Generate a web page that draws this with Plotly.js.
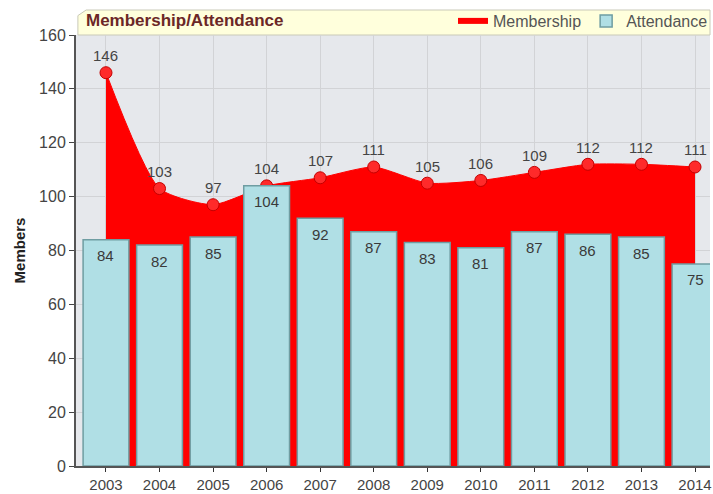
<!DOCTYPE html>
<html>
<head>
<meta charset="utf-8">
<script src="https://cdn.plot.ly/plotly-3.0.1.min.js"></script>
<style>html,body{margin:0;padding:0;background:#fff;}#chart{width:713px;height:494px;}</style>
</head>
<body>
<div id="chart"></div>
<script>
var years = ["2003","2004","2005","2006","2007","2008","2009","2010","2011","2012","2013","2014"];
var membership = [146,103,97,104,107,111,105,106,109,112,112,111];
var attendance = [84,82,85,104,92,87,83,81,87,86,85,75];
var yTicks = [0,20,40,60,80,100,120,140,160];

var FONT = "Liberation Sans, Arial, sans-serif";
var xr = [-0.56, 11.28];

var traces = [
  {
    type: "scatter", name: "Membership", x: years, y: membership,
    mode: "lines+markers", fill: "tozeroy", fillcolor: "#ff0000",
    line: {shape: "spline", smoothing: 0.6, color: "#ff0000", width: 1},
    marker: {size: 12, color: "#ff2a2a", line: {color: "#c40000", width: 1}},
    xaxis: "x", yaxis: "y", hoverinfo: "skip", showlegend: false
  },
  {
    type: "scatter", name: "Membership", x: [null], y: [null],
    mode: "none", fill: "tozeroy", fillcolor: "#ff0000",
    xaxis: "x", yaxis: "y", hoverinfo: "skip", showlegend: true
  },
  {
    type: "bar", name: "Attendance", x: years, y: attendance, width: 0.855,
    marker: {color: "#b0dfe5", line: {color: "#6f9da2", width: 1.5}},
    xaxis: "x2", yaxis: "y2", hoverinfo: "skip"
  }
];

var annotations = [];
years.forEach(function(yr, i){
  annotations.push({x: i, y: membership[i], xref: "x", yref: "y", text: String(membership[i]),
    showarrow: false, yshift: 17, font: {family: FONT, size: 15, color: "#444"}});
  annotations.push({x: i, y: attendance[i], xref: "x2", yref: "y2", text: String(attendance[i]),
    showarrow: false, yshift: -16, font: {family: FONT, size: 15, color: "#3a3a3a"}});
});
annotations.push({xref: "paper", yref: "paper", x: 0.012, y: 1.0325, xanchor: "left", yanchor: "middle",
  text: "<b>Membership/Attendance</b>", showarrow: false,
  font: {family: FONT, size: 17, color: "#6b2727"}});

var layout = {
  width: 713, height: 494,
  margin: {l: 76, r: 0, t: 35, b: 28},
  paper_bgcolor: "#ffffff", plot_bgcolor: "#e6e8ec",
  font: {family: FONT, size: 15, color: "#444"},
  showlegend: true,
  legend: {orientation: "h", x: 1.005, xanchor: "right", y: 1.0325, yanchor: "middle",
    bgcolor: "rgba(0,0,0,0)", font: {family: FONT, size: 16, color: "#555"},
    itemwidth: 30, tracegroupgap: 0},
  xaxis: {type: "category", range: xr, showgrid: true, gridcolor: "#d2d3d6", gridwidth: 1,
    ticks: "outside", ticklen: 4, tickcolor: "#333", showline: true, linecolor: "#555", linewidth: 2,
    tickfont: {family: FONT, size: 15, color: "#444"}, fixedrange: true},
  yaxis: {range: [0, 160], tickvals: yTicks, showgrid: true, gridcolor: "#d2d3d6", gridwidth: 1,
    ticks: "outside", ticklen: 5, tickcolor: "#444", showline: true, linecolor: "#555", linewidth: 2,
    zeroline: false, tickfont: {family: FONT, size: 16, color: "#444"},
    title: {text: "<b>Members</b>", font: {family: FONT, size: 15, color: "#222"}, standoff: 10}},
  xaxis2: {type: "category", overlaying: "x", range: xr, visible: false},
  yaxis2: {overlaying: "y", range: [0, 160], visible: false},
  bargap: 0.15,
  shapes: [{
    type: "path", xref: "paper", yref: "paper", layer: "below",
    path: "M 0.003 1 L 0.003 1.045 L 0.016 1.058 L 1 1.058 L 1 1 Z",
    fillcolor: "#ffffdc", line: {color: "#c9c9b8", width: 1}
  }],
  annotations: annotations
};

Plotly.newPlot("chart", traces, layout, {displayModeBar: false, staticPlot: true});
</script>
</body>
</html>
